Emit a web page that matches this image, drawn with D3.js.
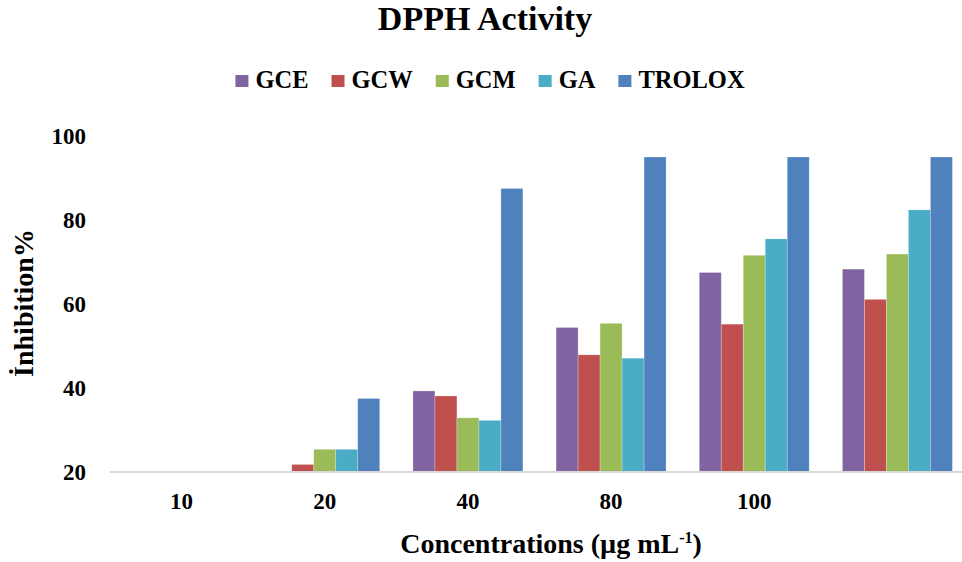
<!DOCTYPE html>
<html>
<head>
<meta charset="utf-8">
<script src="https://cdn.jsdelivr.net/npm/d3@7"></script>
<style>
body{margin:0;background:#fff;}
text{font-family:"Liberation Serif","Times New Roman",serif;font-weight:bold;fill:#000;}
</style>
</head>
<body>
<div id="chart"></div>
<script>
var w = 962;
var h = 562;

// concentrations on the x axis (last group has no label in the original)
var categories = ["10", "20", "40", "80", "100", ""];
var seriesNames = ["GCE", "GCW", "GCM", "GA", "TROLOX"];
var seriesColors = ["#8064A2", "#C0504D", "#9BBB59", "#4BACC6", "#4F81BD"];
// inhibition %, null = at or below the axis minimum (not visible)
var GCE = [null, null, 39.3, 54.4, 67.5, 68.3];
var GCW = [null, 21.8, 38.1, 47.9, 55.2, 61.1];
var GCM = [null, 25.4, 32.9, 55.4, 71.6, 71.9];
var GA = [null, 25.4, 32.3, 47.1, 75.5, 82.4];
var TROLOX = [null, 37.5, 87.5, 95.0, 95.0, 95.0];
var yTicks = [20, 40, 60, 80, 100];

var allSeries = [GCE, GCW, GCM, GA, TROLOX];

var svgChart = d3.select("#chart")
  .append("svg")
  .attr("width", w)
  .attr("height", h);

var xScale = d3.scaleBand()
  .domain(categories)
  .range([110, 969])
  .paddingInner(0.232)
  .paddingOuter(0.116);

var xInner = d3.scaleBand()
  .domain(seriesNames)
  .range([0, xScale.bandwidth()]);

var yScale = d3.scaleLinear()
  .domain([20, 100])
  .range([472, 136]);

// bars
var rows = [];
for (var s = 0; s < seriesNames.length; s++) {
  for (var c = 0; c < categories.length; c++) {
    var v = allSeries[s][c];
    if (v === null) continue;
    rows.push({cat: c, name: seriesNames[s], color: seriesColors[s], value: v});
  }
}

svgChart.append("g")
  .selectAll("rect")
  .data(rows)
  .enter()
  .append("rect")
  .attr("x", function(d) { return xScale(categories[d.cat]) + xInner(d.name); })
  .attr("y", function(d) { return yScale(d.value); })
  .attr("width", xInner.bandwidth())
  .attr("height", function(d) { return yScale(20) - yScale(d.value); })
  .attr("fill", function(d) { return d.color; })
  .attr("stroke", "#ffffff")
  .attr("stroke-opacity", 0.3)
  .attr("stroke-width", 0.8);

// x axis baseline
svgChart.append("line")
  .attr("x1", 110)
  .attr("x2", w)
  .attr("y1", yScale(20))
  .attr("y2", yScale(20))
  .attr("stroke", "#d9d9d9")
  .attr("stroke-width", 2);

// x tick labels
svgChart.append("g")
  .selectAll("text")
  .data(categories)
  .enter()
  .append("text")
  .attr("x", function(d) { return xScale(d) + xScale.bandwidth() / 2; })
  .attr("y", 509)
  .style("text-anchor", "middle")
  .style("font-size", "23px")
  .text(function(d) { return d; });

// y tick labels
svgChart.append("g")
  .selectAll("text")
  .data(yTicks)
  .enter()
  .append("text")
  .attr("x", 86)
  .attr("y", function(d) { return yScale(d); })
  .attr("dy", "0.35em")
  .style("text-anchor", "end")
  .style("font-size", "23px")
  .text(function(d) { return d; });

// title
svgChart.append("text")
  .attr("x", 485)
  .attr("y", 30)
  .style("text-anchor", "middle")
  .style("font-size", "34px")
  .text("DPPH Activity");

// axis titles
var xt = svgChart.append("text")
  .attr("x", 551)
  .attr("y", 553)
  .style("text-anchor", "middle")
  .style("font-size", "28px");
xt.append("tspan").text("Concentrations (µg mL");
xt.append("tspan").attr("dy", -10).style("font-size", "16px").text("-1");
xt.append("tspan").attr("dy", 10).text(")");

svgChart.append("text")
  .attr("transform", "translate(33,303) rotate(-90)")
  .style("text-anchor", "middle")
  .style("font-size", "28px")
  .text("İnhibition%");

// legend
var legend = svgChart.append("g");
var lx = 0;
for (var i = 0; i < seriesNames.length; i++) {
  var item = legend.append("g").attr("transform", "translate(" + lx + ",0)");
  item.append("rect")
    .attr("x", 0)
    .attr("y", 75)
    .attr("width", 13)
    .attr("height", 12)
    .attr("fill", seriesColors[i]);
  var t = item.append("text")
    .attr("x", 20)
    .attr("y", 88)
    .style("font-size", "24.5px")
    .text(seriesNames[i]);
  lx += 20 + t.node().getComputedTextLength() + 23;
}
var legendW = lx - 23;
legend.attr("transform", "translate(" + (490 - legendW / 2) + ",0)");
</script>
</body>
</html>
